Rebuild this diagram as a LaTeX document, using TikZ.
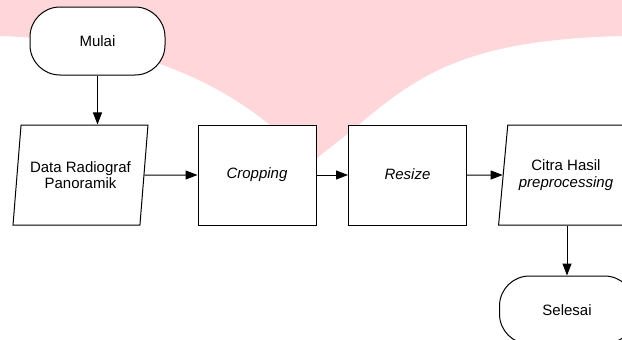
\documentclass[tikz,border=0pt]{standalone}
\usepackage{fontspec}
\setmainfont{Liberation Sans}
\usetikzlibrary{arrows.meta,shapes.geometric}
\definecolor{bgpink}{HTML}{FFD7DB}
\tikzset{
  terminal/.style={draw, fill=white, rounded corners=30pt, minimum width=135pt, minimum height=68pt, inner sep=0pt},
  process/.style={draw, fill=white, minimum width=118pt, minimum height=100pt, inner sep=0pt},
  iodata/.style={draw, fill=white, trapezium, trapezium left angle=78.7, trapezium right angle=101.3,
    trapezium stretches=true, minimum width=135pt, minimum height=100pt, align=center, inner xsep=0pt},
  flow/.style={-{Triangle[length=12pt,width=9pt]}}
}

\begin{document}
\begin{tikzpicture}[x=1pt,y=-1pt,line width=1pt,font=\fontsize{15}{16.5}\selectfont]
	%%%%% START %%%%%
	\useasboundingbox (0,0) rectangle (622,340);
	\clip (0,0) rectangle (622,340);
	
	% pink shape behind
	\fill[bgpink] (0,0) -- (0,36) .. controls (110,40) and (200,68) .. (270,125)
	  -- (312,162) -- (355,128) .. controls (420,72) and (470,40) .. (622,36) -- (622,0) -- cycle;
	
	\node[terminal] (mulai) at (97.5,41) {Mulai};
	\node[iodata] (data) at (80.5,175) {Data Radiograf\\Panoramik};
	\node[process] (crop) at (257,175) {\raisebox{2pt}{\itshape Cropping}};
	\node[process] (resize) at (407.5,175) {\raisebox{2pt}{\itshape Resize}};
	\node[iodata] (citra) at (566,175) {Citra Hasil\\\itshape preprocessing};
	\node[terminal] (selesai) at (567,310) {Selesai};
	
	\draw[flow] (mulai.south) -- (mulai.south |- data.north);
	\draw[flow] (data.east) -- (crop.west);
	\draw[flow] (crop.east) -- (resize.west);
	\draw[flow] (resize.east) -- (citra.west);
	\draw[flow] (citra.south -| selesai.north) -- (selesai.north);
	
	%%%%% END %%%%%
\end{tikzpicture}
\end{document}
